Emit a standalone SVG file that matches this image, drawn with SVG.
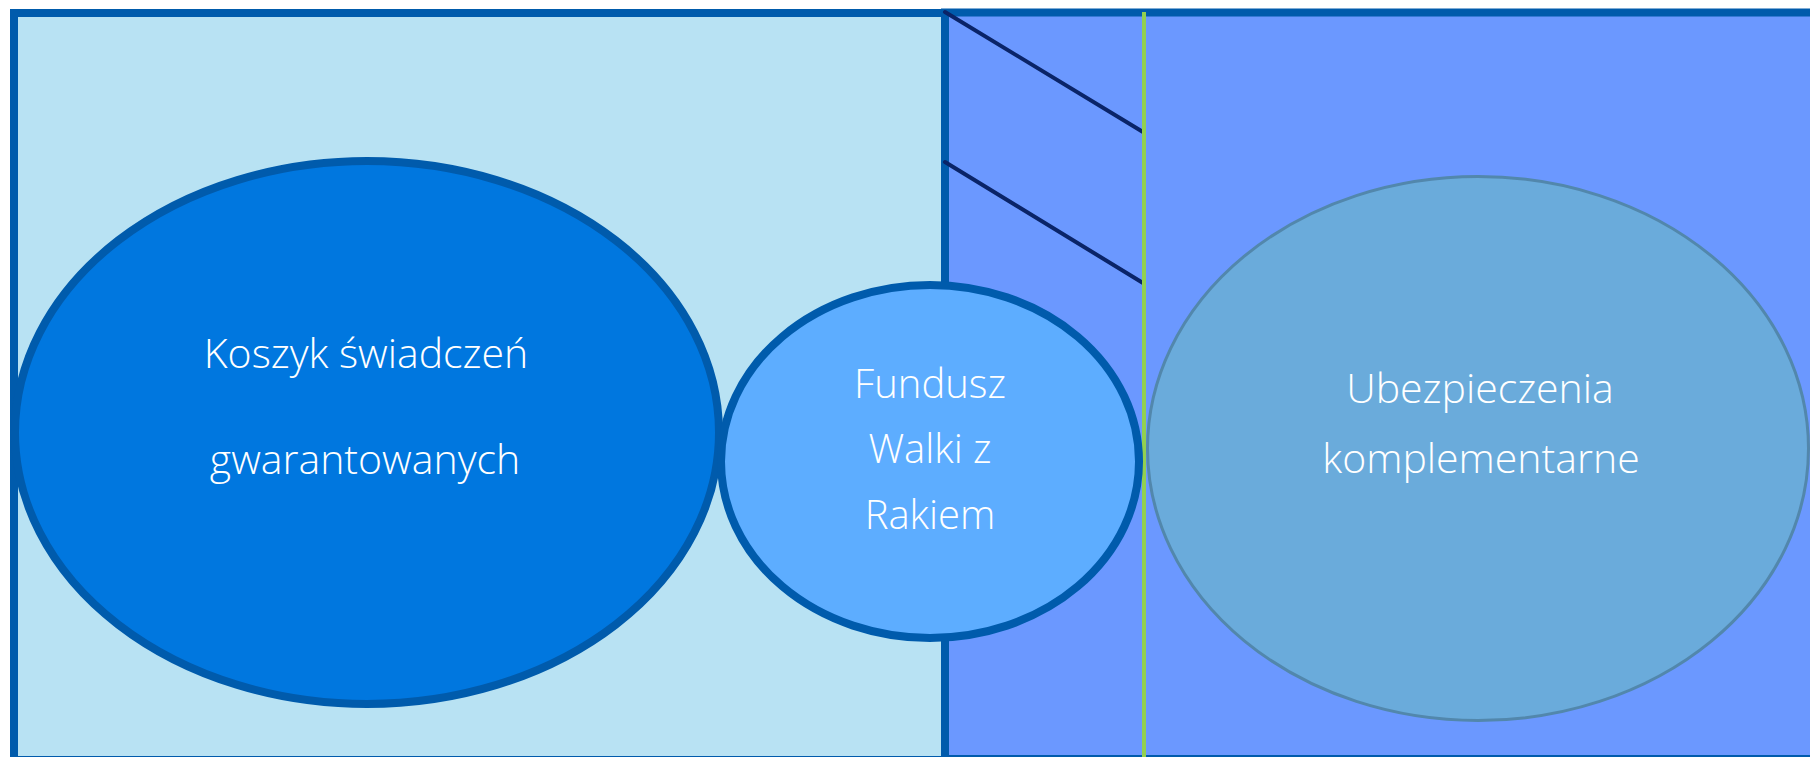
<svg xmlns="http://www.w3.org/2000/svg" width="1810" height="757" viewBox="0 0 1810 757">
  <style>
    .panel-border { stroke: #005BAC; stroke-width: 8; }
    .hatch { stroke: #0A2468; stroke-width: 4; stroke-linecap: round; }
    .divider { stroke: #92D050; stroke-width: 4; }
    .label { font-family: "Open Sans", "Liberation Sans", sans-serif; font-weight: 300; fill: #FFFFFF; text-anchor: middle; }
  </style>

  <rect width="1810" height="757" fill="#FFFFFF"/>

  <!-- Two background panels -->
  <g id="panel-public">
    <rect x="14" y="13" width="931" height="747" fill="#B8E2F3" class="panel-border"/>
  </g>
  <g id="panel-private">
    <rect x="945" y="12.5" width="875" height="746.5" fill="#6B98FF" class="panel-border"/>
  </g>

  <!-- Hatching and divider line -->
  <g id="connectors">
    <line x1="945" y1="12" x2="1143" y2="132" class="hatch"/>
    <line x1="945" y1="162" x2="1143" y2="283" class="hatch"/>
    <line x1="1144" y1="12" x2="1144" y2="757" class="divider"/>
  </g>

  <g id="node-koszyk">
    <ellipse cx="367" cy="432.5" rx="352" ry="271.5" fill="#0077DF" stroke="#005BAC" stroke-width="8"/>
    <text class="label" x="366" y="368" font-size="41">Koszyk świadczeń</text>
    <text class="label" x="365" y="474" font-size="41">gwarantowanych</text>
  </g>

  <g id="node-fundusz">
    <ellipse cx="930" cy="461.5" rx="209" ry="176.5" fill="#5DADFF" stroke="#005BAC" stroke-width="8"/>
    <text class="label" x="930" y="398" font-size="40">Fundusz</text>
    <text class="label" x="930" y="463" font-size="40">Walki z</text>
    <text class="label" x="930" y="529" font-size="40">Rakiem</text>
  </g>

  <g id="node-ubezpieczenia">
    <ellipse cx="1478" cy="448.5" rx="330.5" ry="272" fill="#6AABDB" stroke="#5287AC" stroke-width="3"/>
    <text class="label" x="1480" y="403" font-size="41">Ubezpieczenia</text>
    <text class="label" x="1481" y="473" font-size="41">komplementarne</text>
  </g>
</svg>
